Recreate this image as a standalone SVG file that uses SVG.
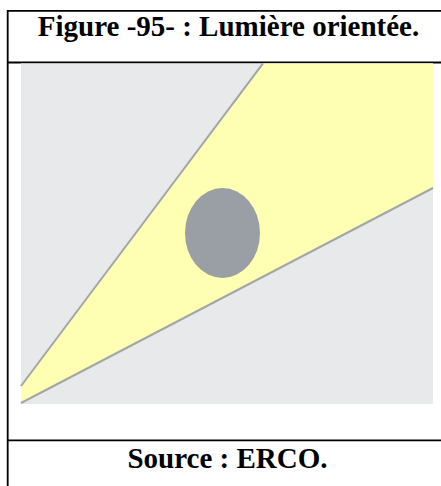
<svg xmlns="http://www.w3.org/2000/svg" width="441" height="486" viewBox="0 0 441 486">
<style>
.t{font-family:"Liberation Serif","Times New Roman",serif;font-weight:bold;font-size:29px;fill:#000;text-anchor:middle}
.rule{stroke:#000;stroke-width:1.8;fill:none}
.edge{stroke:#a2a7a6;stroke-width:2;fill:none}
</style>
<rect width="441" height="486" fill="#fff"/>
<g id="frame">
<line class="rule" x1="7.7" y1="10.9" x2="441" y2="10.9"/>
<line class="rule" x1="7.7" y1="10" x2="7.7" y2="486"/>
<line class="rule" x1="7.7" y1="62.5" x2="441" y2="62.5"/>
<line class="rule" x1="7.7" y1="440.3" x2="441" y2="440.3"/>
</g>
<g id="title"><text class="t" x="228.5" y="36">Figure -95- : Lumière orientée.</text></g>
<g id="picture">
<rect x="21" y="63.4" width="412" height="340.6" fill="#e8e9eb"/>
<polygon points="21,386 263,63.4 433,63.4 433,188 21,403" fill="#ffffb3"/>
<line class="edge" x1="21" y1="386" x2="263" y2="63.4"/>
<line class="edge" x1="21" y1="403" x2="433" y2="188"/>
<ellipse cx="222.5" cy="233" rx="37.5" ry="45" fill="#9a9fa5"/>
</g>
<g id="source"><text class="t" x="227.5" y="467.5">Source : ERCO.</text></g>
</svg>
